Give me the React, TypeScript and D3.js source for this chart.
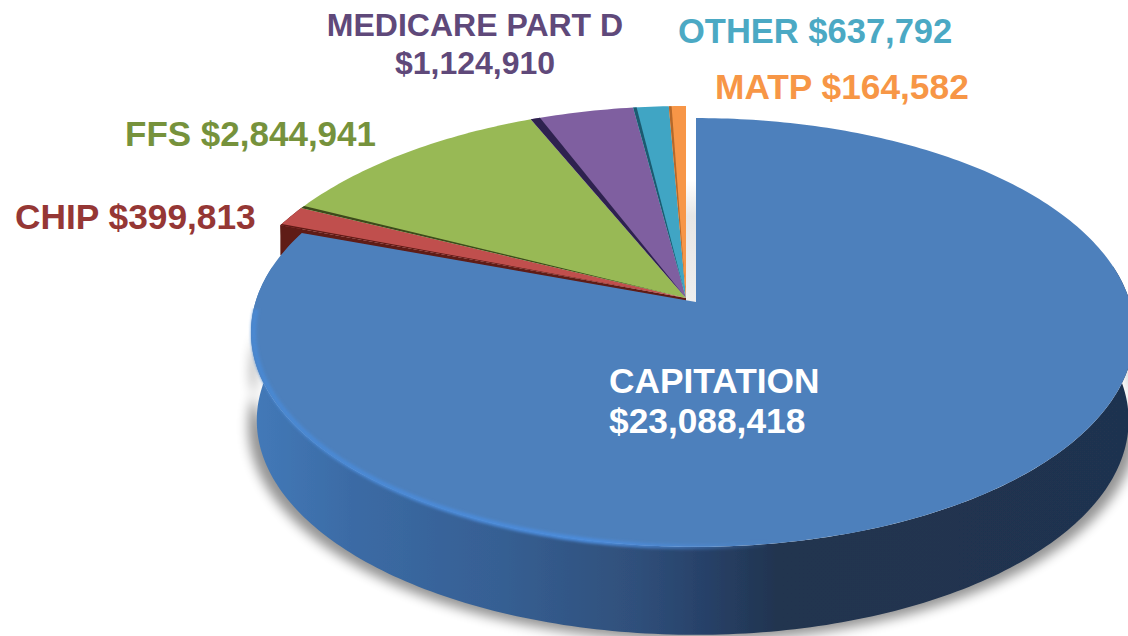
import React from 'react';
import * as d3 from 'd3';

const width = 1128;
const height = 636;

const categories = ['CAPITATION', 'CHIP', 'FFS', 'MEDICARE PART D', 'OTHER', 'MATP'];
// slice sizes as drawn in the picture (the printed labels do not quite add up to the wedges)
const sliceValues = [23088418, 430000, 3297000, 1215000, 415000, 199000];
const faceColors = ['#4e80bc', '#c0504d', '#98b954', '#7f5fa0', '#3fa5c4', '#f79646'];
const edgeColors = ['#4e80bc', '#5e1a16', '#3d4a1c', '#2f2350', '#1c5a70', '#b5682a'];
const edgeAngles = [0, 0.4, 0.7, 1.4, 0.5, 0.4];

const labelLines = [
  ['CAPITATION', '$23,088,418'],
  ['CHIP $399,813'],
  ['FFS $2,844,941'],
  ['MEDICARE PART D', '$1,124,910'],
  ['OTHER $637,792'],
  ['MATP $164,582'],
];
const labelColors = ['#ffffff', '#953735', '#76923c', '#5f497a', '#4ba9c4', '#f79646'];
const labelSizes = [35.3, 35.3, 35, 32, 34.5, 35.3];
const labelAnchors: [number, number, string, number][] = [
  [609, 393, 'start', 40],
  [15, 229, 'start', 0],
  [125, 146, 'start', 0],
  [475, 36, 'middle', 38],
  [678, 43, 'start', 0],
  [715, 99, 'start', 0],
];

const wallStops: [number, string][] = [
  [0, '#4379b8'],
  [0.11, '#3b6ba5'],
  [0.28, '#365f93'],
  [0.44, '#2f4f7a'],
  [0.51, '#28426a'],
  [0.6, '#21344f'],
  [1, '#1f3350'],
];

// the disc is seen in perspective, so the apex is not the middle of the ellipse
const blueDisc = { cx: 696, b: 302, a: 167.2, c: -0.142, r: 440.5, rightScale: 0.985 };
const restDisc = { cx: 686, b: 298, a: 175, c: -0.16, r: 456, rightScale: 1 };
const depth = 88;

type Disc = typeof blueDisc;

function project(disc: Disc, angle: number, drop = 0, shrink = 1): [number, number] {
  const u = Math.sin(angle);
  const v = -Math.cos(angle);
  const w = 1 + disc.c * v;
  const r = disc.r * shrink * (u > 0 ? disc.rightScale : 1);
  return [disc.cx + (r * u) / w, (disc.a * v + disc.b) / w + drop];
}

const line = d3.line();

function arcPoints(disc: Disc, a0: number, a1: number, drop = 0, shrink = 1) {
  const n = Math.max(2, Math.ceil(Math.abs(a1 - a0) * 60));
  return d3.range(n + 1).map((i) => project(disc, a0 + ((a1 - a0) * i) / n, drop, shrink));
}

function wedge(disc: Disc, a0: number, a1: number) {
  return line([[disc.cx, disc.b], ...arcPoints(disc, a0, a1)]) + 'Z';
}

function wall(disc: Disc, a0: number, a1: number) {
  const upper = arcPoints(disc, a0, a1);
  const lower = arcPoints(disc, a1, a0, depth, 0.987);
  return line([...upper, ...lower]) + 'Z';
}

// cut face of a slice, running from the apex down along its first edge
function cutWall(disc: Disc, angle: number) {
  const outer = project(disc, angle);
  return line([
    [disc.cx, disc.b],
    outer,
    [outer[0], outer[1] + 30],
    [disc.cx, disc.b + 30],
  ]) + 'Z';
}

const rad = (d: number) => (d * Math.PI) / 180;

export default function App() {
  const slices = d3.pie<number>().sort(null).startAngle(0).endAngle(2 * Math.PI)(sliceValues);
  const blue = slices[0];
  const rest = slices.slice(1);

  const shadowPath =
    line(arcPoints(blueDisc, rad(88), rad(272), depth + 6, 1.006).concat(arcPoints(blueDisc, rad(272), rad(88), 40))) + 'Z';

  return (
    <svg
      width={width}
      height={height}
      style={{ position: 'absolute', left: 0, top: 0, background: '#fff' }}
      fontFamily="'Liberation Sans', Arial, sans-serif"
      fontWeight="bold"
    >
      <defs>
        <linearGradient id="wallFill" gradientUnits="userSpaceOnUse" x1={255} x2={1128} y1={0} y2={0}>
          {wallStops.map(([o, c]) => (
            <stop key={o} offset={o} stopColor={c} />
          ))}
        </linearGradient>
        <linearGradient id="rimFill" gradientUnits="userSpaceOnUse" x1={255} x2={780} y1={0} y2={0}>
          <stop offset={0} stopColor="#4a88d2" />
          <stop offset={0.65} stopColor="#4c8cdc" />
          <stop offset={1} stopColor="#4c8cdc" stopOpacity={0} />
        </linearGradient>
        <linearGradient id="gapFill" gradientUnits="userSpaceOnUse" x1={0} x2={0} y1={180} y2={300}>
          <stop offset={0} stopColor="#ffffff" />
          <stop offset={0.3} stopColor="#e6e6e6" />
          <stop offset={1} stopColor="#eeeeee" />
        </linearGradient>
        <filter id="soft" x="-5%" y="-5%" width="110%" height="110%">
          <feGaussianBlur stdDeviation={0.6} />
        </filter>
        <filter id="rimBlur" x="-5%" y="-5%" width="110%" height="110%">
          <feGaussianBlur stdDeviation={1.5} />
        </filter>
        <filter id="shadowBlur" x="-10%" y="-10%" width="120%" height="120%">
          <feGaussianBlur stdDeviation={6} />
        </filter>
      </defs>

      <path d={shadowPath} fill="#000" opacity={0.42} filter="url(#shadowBlur)" />

      <g filter="url(#soft)">
        <path d={wall(restDisc, rest[0].startAngle, rest[0].endAngle)} fill={edgeColors[1]} />
        <path d={cutWall(restDisc, rest[0].startAngle)} fill={edgeColors[1]} />
        {rest.map((s) => (
          <path key={s.index} d={wedge(restDisc, s.startAngle, s.endAngle)} fill={faceColors[s.index]} />
        ))}
        {rest.map((s) => (
          <path
            key={s.index}
            d={wedge(restDisc, s.startAngle, s.startAngle + rad(edgeAngles[s.index]))}
            fill={edgeColors[s.index]}
          />
        ))}
        <rect x={686} y={180} width={10} height={122} fill="url(#gapFill)" />
        <path d={wall(blueDisc, rad(80), rad(280))} fill="url(#wallFill)" />
        <path d={wedge(blueDisc, blue.startAngle, blue.endAngle)} fill={faceColors[0]} />
      </g>

      <path
        d={line(arcPoints(blueDisc, rad(268), rad(172), 0, 0.994)) ?? ''}
        fill="none"
        stroke="url(#rimFill)"
        strokeWidth={5}
        filter="url(#rimBlur)"
      />

      {categories.map((name, i) => (
        <text
          key={name}
          x={labelAnchors[i][0]}
          y={labelAnchors[i][1]}
          textAnchor={labelAnchors[i][2] as 'start'}
          fill={labelColors[i]}
          fontSize={labelSizes[i]}
        >
          {labelLines[i].map((t, j) => (
            <tspan key={t} x={labelAnchors[i][0]} dy={j === 0 ? 0 : labelAnchors[i][3]}>
              {t}
            </tspan>
          ))}
        </text>
      ))}
    </svg>
  );
}
